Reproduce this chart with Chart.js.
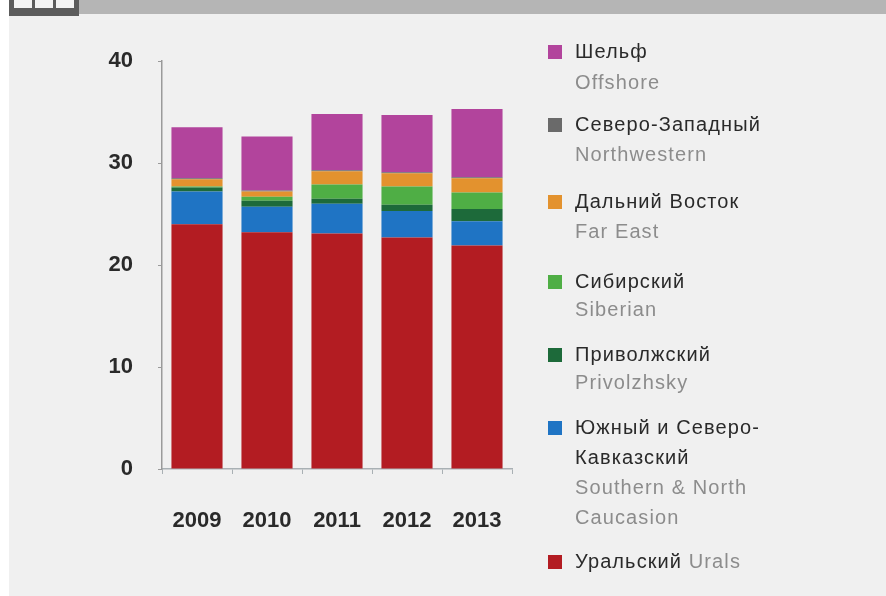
<!DOCTYPE html>
<html>
<head>
<meta charset="utf-8">
<script src="https://cdn.jsdelivr.net/npm/chart.js@4/dist/chart.umd.min.js"></script>
<style>
    html, body {margin: 0; padding: 0; background: #fff;}
    #page {position: relative; width: 886px; height: 596px; overflow: hidden; background: #fff;
        font-family: "Liberation Sans", Arial, sans-serif;}
    #panel {position: absolute; left: 9px; top: 14px; right: 0; bottom: 0; background: #f0f0f0;}
    #topbar {position: absolute; left: 79px; top: 0; right: 0; height: 14px; background: #b5b5b5;}
    #iconbox {position: absolute; left: 9px; top: 0; width: 70px; height: 16px; background: #5c5c5c;}
    .sq {position: absolute; top: 0; width: 18px; height: 8px; background: #f4f4f4;}
    #chart {position: absolute; left: 0; top: 0;}
    .lg-box {position: absolute; left: 548px; width: 14px; height: 14px;}
    .lg-txt {position: absolute; left: 575px; font-size: 20px; letter-spacing: 1.1px; white-space: nowrap; line-height: 22px;}
    .ru {color: #2a2a2a;}
    .en {color: #8c8c8c;}
</style>
</head>
<body>
<div id="page">
    <div id="panel"></div>
    <div id="topbar"></div>
    <div id="iconbox">
        <div class="sq" style="left:5px"></div>
        <div class="sq" style="left:26px"></div>
        <div class="sq" style="left:47px"></div>
    </div>
    <canvas id="chart" width="886" height="596"></canvas>
    <div id="legend"></div>
</div>
<script>
const years = ['2009', '2010', '2011', '2012', '2013'];
const yTicks = [0, 10, 20, 30, 40];

// stacked from bottom to top
const urals = [24.0, 23.2, 23.1, 22.7, 21.9];
const southern = [3.2, 2.5, 2.9, 2.6, 2.4];
const privolzhsky = [0.4, 0.6, 0.5, 0.6, 1.2];
const siberian = [0.1, 0.4, 1.4, 1.8, 1.6];
const farEast = [0.7, 0.5, 1.3, 1.3, 1.4];
const northwest = [0.1, 0.1, 0.1, 0.1, 0.1];
const offshore = [5.0, 5.3, 5.5, 5.6, 6.7];

const seriesColors = ['#b31c22', '#1f74c4', '#1d6a3a', '#4fae45', '#e3922e', '#6a6a6a', '#b2449c'];
const seriesNames = [
    ['Уральский Urals'],
    ['Южный и Северо-', 'Кавказский'],
    ['Приволжский'],
    ['Сибирский'],
    ['Дальний Восток'],
    ['Северо-Западный'],
    ['Шельф']
];
const seriesNamesEn = [
    [],
    ['Southern & North', 'Caucasion'],
    ['Privolzhsky'],
    ['Siberian'],
    ['Far East'],
    ['Northwestern'],
    ['Offshore']
];
const seriesData = [urals, southern, privolzhsky, siberian, farEast, northwest, offshore];

// legend line positions (top of each text line), top group first
const legendTops = [
    [40, 71],
    [113, 143],
    [190, 220],
    [270, 298],
    [343, 371],
    [416, 446, 476, 506],
    [550]
];

const tickFont = {size: 22, weight: 'bold', family: '"Liberation Sans", Arial, sans-serif'};

const datasets = seriesData.map((data, i) => ({
    label: seriesNames[i].join(' '),
    data: data,
    backgroundColor: seriesColors[i],
    borderWidth: 0,
    barPercentage: 0.73,
    categoryPercentage: 1
}));

const ctx = document.getElementById('chart').getContext('2d');
new Chart(ctx, {
    type: 'bar',
    data: {labels: years, datasets: datasets},
    options: {
        responsive: false,
        animation: false,
        layout: {padding: {left: 90, top: 61, right: 374, bottom: 57}},
        scales: {
            x: {
                stacked: true,
                grid: {offset: true, drawOnChartArea: false, tickLength: 5, color: '#a9b0b4'},
                border: {color: '#a9b0b4', width: 1.5},
                ticks: {color: '#2a2a2a', padding: 34, maxRotation: 0, autoSkip: false, font: tickFont},
                afterFit: scale => { scale.height = 70; }
            },
            y: {
                stacked: true,
                min: 0,
                max: 40,
                afterBuildTicks: scale => { scale.ticks = yTicks.map(v => ({value: v})); },
                grid: {drawOnChartArea: false, tickLength: 4, color: '#9a9a9a'},
                border: {color: '#9a9a9a', width: 1.5},
                ticks: {color: '#2a2a2a', padding: 25, font: tickFont},
                afterFit: scale => { scale.width = 72; }
            }
        },
        plugins: {
            legend: {display: false},
            tooltip: {enabled: false}
        }
    }
});

// legend on the right, top group first
const legend = document.getElementById('legend');
for (let k = seriesData.length - 1; k >= 0; k--) {
    const tops = legendTops[seriesData.length - 1 - k];
    const box = document.createElement('div');
    box.className = 'lg-box';
    box.style.top = (tops[0] + 5) + 'px';
    box.style.background = seriesColors[k];
    legend.appendChild(box);
    const lines = seriesNames[k].map(t => ['ru', t]).concat(seriesNamesEn[k].map(t => ['en', t]));
    lines.forEach((ln, j) => {
        const d = document.createElement('div');
        d.className = 'lg-txt ' + ln[0];
        d.style.top = tops[j] + 'px';
        if (k === 0) {
            d.innerHTML = '<span class="ru">Уральский</span> <span class="en">Urals</span>';
        } else {
            d.textContent = ln[1];
        }
        legend.appendChild(d);
    });
}
</script>
</body>
</html>
